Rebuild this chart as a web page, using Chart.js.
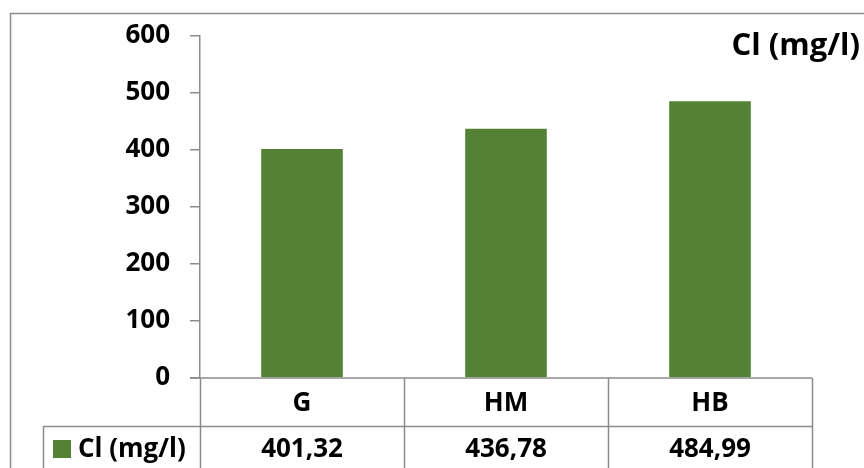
<!DOCTYPE html>
<html>
<head>
<meta charset="utf-8">
<script src="https://cdn.jsdelivr.net/npm/chart.js@4.4.0/dist/chart.umd.min.js"></script>
<style>
  html, body { margin: 0; padding: 0; background: #fff; }
  #wrap { width: 864px; height: 468px; }
</style>
</head>
<body>
<div id="wrap"><canvas id="chart" width="864" height="468"></canvas></div>
<script>
// données
const categories = ['G', 'HM', 'HB'];
const clValues = [401.32, 436.78, 484.99];
const seriesName = 'Cl (mg/l)';
const yMin = 0, yMax = 600, yStep = 100;

const barColor = '#548235';
const lineColor = '#8c8c8c';
const fontFamily = '"Open Sans", "Liberation Sans", sans-serif';

function fmt(v) {
    return v.toFixed(2).replace('.', ',');
}

// cadre, titre et table de données
const tablePlugin = {
    id: 'dataTable',
    beforeDraw(chart) {
        const ctx = chart.ctx;
        ctx.save();
        ctx.strokeStyle = lineColor;
        ctx.lineWidth = 1.5;
        ctx.beginPath();
        ctx.moveTo(10.5, 468);
        ctx.lineTo(10.5, 13.5);
        ctx.lineTo(864, 13.5);
        ctx.stroke();
        ctx.restore();
    },
    afterDraw(chart) {
        const ctx = chart.ctx;
        const x = chart.scales.x;
        const area = chart.chartArea;
        const half = (x.getPixelForValue(1) - x.getPixelForValue(0)) / 2;
        const rowTop = area.bottom;
        const rowMid = rowTop + 48;
        const bottom = 468;

        ctx.save();
        ctx.strokeStyle = lineColor;
        ctx.lineWidth = 1.5;
        ctx.beginPath();
        // axe horizontal
        ctx.moveTo(area.left - 10, rowTop);
        ctx.lineTo(area.right, rowTop);
        // lignes verticales
        for (let i = 0; i <= categories.length; i++) {
            const px = Math.round(x.getPixelForValue(i) - half) + 0.5;
            ctx.moveTo(px, rowTop);
            ctx.lineTo(px, bottom);
        }
        ctx.moveTo(43.5, rowMid);
        ctx.lineTo(43.5, bottom);
        ctx.moveTo(43.5, rowMid + 0.5);
        ctx.lineTo(area.right, rowMid + 0.5);
        ctx.stroke();

        ctx.fillStyle = '#000';
        ctx.font = 'bold 26px ' + fontFamily;
        ctx.textAlign = 'center';
        ctx.textBaseline = 'middle';
        categories.forEach((c, i) => {
            const px = x.getPixelForValue(i);
            ctx.fillText(c, px, rowTop + 26);
            ctx.fillText(fmt(clValues[i]), px, rowMid + 24);
        });

        // légende
        ctx.fillStyle = barColor;
        ctx.fillRect(53, rowMid + 14, 18, 18);
        ctx.fillStyle = '#000';
        ctx.textAlign = 'left';
        ctx.fillText(seriesName, 78, rowMid + 24);

        // titre
        ctx.textAlign = 'right';
        ctx.font = 'bold 31px ' + fontFamily;
        ctx.fillText(seriesName, 860, 46);
        ctx.restore();
    }
};

new Chart(document.getElementById('chart'), {
    type: 'bar',
    data: {
        labels: categories,
        datasets: [{
            label: seriesName,
            data: clValues,
            backgroundColor: barColor,
            borderWidth: 0,
            categoryPercentage: 1,
            barPercentage: 0.4
        }]
    },
    options: {
        responsive: false,
        animation: false,
        devicePixelRatio: 1,
        layout: {
            autoPadding: false,
            padding: { top: 29, bottom: 90, left: 0, right: 52 }
        },
        plugins: {
            legend: { display: false },
            title: { display: false },
            tooltip: { enabled: false }
        },
        scales: {
            x: {
                display: false
            },
            y: {
                min: yMin,
                max: yMax,
                afterFit(scale) { scale.width = 200; },
                ticks: {
                    stepSize: yStep,
                    padding: 20,
                    color: '#000',
                    font: { family: fontFamily, size: 26, weight: 'bold' }
                },
                grid: {
                    drawOnChartArea: false,
                    drawTicks: true,
                    tickLength: 10,
                    color: lineColor,
                    lineWidth: 1.5
                },
                border: { display: true, color: lineColor, width: 1.5 }
            }
        }
    },
    plugins: [tablePlugin]
});
</script>
</body>
</html>
